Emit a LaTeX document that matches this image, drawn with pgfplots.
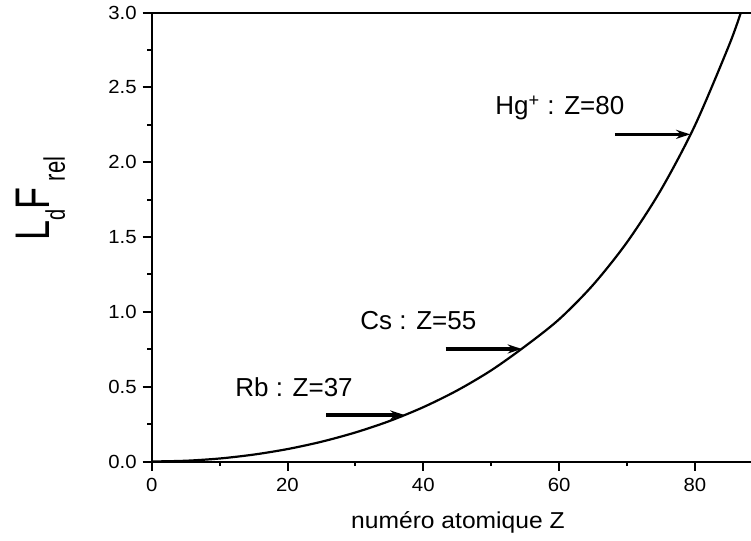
\documentclass[border=0pt]{standalone}
\usepackage{pgfplots}
\pgfplotsset{compat=1.18}
\usepackage{fontspec}
\setmainfont{Liberation Sans}
\usepackage{graphicx}
\usetikzlibrary{arrows.meta}

% curve
\pgfplotstableread{
Z     L
0     0
5     0.005
10    0.020
15    0.046
20    0.083
25    0.132
30    0.194
35    0.270
40    0.363
45    0.475
50    0.609
55    0.770
60    0.950
65    1.180
70    1.465
75    1.815
80    2.245
85    2.778
86.77 3.000
}\curvedata

\begin{document}
\begin{tikzpicture}
\useasboundingbox (-75.85pt,-39.75pt) rectangle (299.65pt,230.75pt);
\begin{axis}[
  scale only axis,
  width=299.65pt, height=224.5pt,
  xmin=0, xmax=88.26, ymin=0, ymax=3,
  axis x line*=bottom, axis y line*=left,
  xtick={0,20,40,60,80}, ytick={0,0.5,1,1.5,2,2.5,3},
  minor x tick num=1, minor y tick num=1,
  tick align=outside,
  major tick length=4.5pt, minor tick length=2.3pt,
  axis line style={line width=1pt},
  every tick/.style={black, line width=1pt},
  tick label style={font=\fontsize{9.5}{11}\selectfont},
  xticklabel={\scalebox{1.07}[1]{\pgfmathprintnumber[assume math mode=true]{\tick}}},
  yticklabel={\scalebox{1.07}[1]{\pgfmathprintnumber[assume math mode=true,fixed,fixed zerofill,precision=1]{\tick}}},
  xticklabel style={yshift=-0.5pt},
  yticklabel style={xshift=0.5pt},
  clip mode=individual,
]
\addplot[black, line width=1.1pt, smooth] table[x=Z, y=L] {\curvedata};

\draw[line width=1pt] (rel axis cs:0,1) -- (rel axis cs:1,1);

\draw[line width=1.6pt, -{Stealth[length=7pt,width=4.5pt]}] (axis cs:25.7,0.311) -- (axis cs:37.2,0.311);
\draw[line width=1.6pt, -{Stealth[length=7pt,width=4.5pt]}] (axis cs:43.3,0.752) -- (axis cs:54.5,0.752);
\draw[line width=1.6pt, -{Stealth[length=7pt,width=4.5pt]}] (axis cs:68.2,2.186) -- (axis cs:79.3,2.186);

\node[anchor=base west, inner sep=0, font=\fontsize{13}{13}\selectfont] at (axis cs:12.27,0.433) {Rb : Z=37};
\node[anchor=base west, inner sep=0, font=\fontsize{13}{13}\selectfont] at (axis cs:30.68,0.884) {Cs : Z=55};
\node[anchor=base west, inner sep=0, font=\fontsize{13}{13}\selectfont] at (axis cs:50.56,2.316) {Hg\textsuperscript{+} : Z=80};

\node[anchor=base, inner sep=0, font=\fontsize{11.5}{11.5}\selectfont] at (axis cs:45.1,-0.4445) {\scalebox{1.07}[1]{numéro atomique Z}};

\node[rotate=90, anchor=base, inner sep=0] at (axis cs:-14.98,1.758)
  {\scalebox{1}[1.35]{\fontsize{18}{18}\selectfont L\raisebox{-5.5pt}{\fontsize{10}{10}\selectfont d}F\hspace{3pt}\raisebox{-5.5pt}{\fontsize{11}{11}\selectfont rel}}};
\end{axis}
\end{tikzpicture}
\end{document}
